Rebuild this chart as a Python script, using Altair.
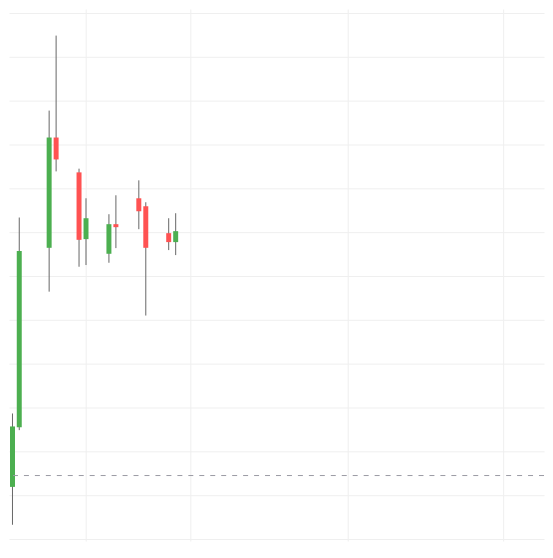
import altair as alt
import pandas as pd

# time offsets (arbitrary units) of each candle
t = [0, 6.8, 36.8, 43.8, 66.8, 73.8, 96.8, 103.8, 126.8, 133.8, 156.8, 163.8]
open_ = [11.89, 25.52, 66.43, 91.59, 83.64, 68.41, 65.07, 71.82, 77.73, 75.91, 69.77, 67.73]
close = [25.68, 65.68, 91.59, 86.59, 68.25, 73.18, 71.82, 71.14, 74.77, 66.43, 67.73, 70.23]
high = [28.64, 73.34, 97.73, 114.84, 84.48, 77.73, 74.09, 78.41, 81.82, 76.82, 73.18, 74.32]
low = [3.25, 24.84, 56.43, 83.86, 62.11, 62.50, 63.02, 66.36, 70.68, 50.98, 65.91, 64.77]
ref_level = [14.48]
x_grid = [73.8, 178.8, 336.0, 492.8]
y_grid = [0, 10, 20, 30, 40, 50, 60, 70, 80, 90, 100, 110, 120]

df = pd.DataFrame({"t": t, "open": open_, "close": close, "high": high, "low": low})
df["dir"] = ["up" if c >= o else "down" for o, c in zip(open_, close)]

xs = alt.Scale(domain=[-3.5, 533.5], nice=False, zero=False, padding=0)
ys = alt.Scale(domain=[-0.4545, 120.91], nice=False, zero=False, padding=0)

x_axis = alt.Axis(values=x_grid, labels=False, ticks=False, domain=False, title=None,
                  grid=True, gridColor="#efefef", gridWidth=1)
y_axis = alt.Axis(values=y_grid, labels=False, ticks=False, domain=False, title=None,
                  grid=True, gridColor="#efefef", gridWidth=1)

base = alt.Chart(df)

wicks = base.mark_rule(color="#666666", strokeWidth=1).encode(
    x=alt.X("t:Q", scale=xs, axis=x_axis),
    y=alt.Y("low:Q", scale=ys, axis=y_axis),
    y2="high:Q",
)

bodies = base.mark_bar(size=5).encode(
    x=alt.X("t:Q", scale=xs),
    y=alt.Y("open:Q", scale=ys),
    y2="close:Q",
    color=alt.Color("dir:N", scale=alt.Scale(domain=["up", "down"], range=["#4caf50", "#ff5252"]), legend=None),
)

ref = alt.Chart(pd.DataFrame({"v": ref_level})).mark_rule(
    color="#9a9aa4", strokeWidth=1, strokeDash=[5, 6]
).encode(y=alt.Y("v:Q", scale=ys))

chart = (wicks + bodies + ref).properties(width=537, height=534, padding=0).configure_view(
    strokeWidth=0
).configure_scale(continuousPadding=0)

chart.save("out.html", embed_options={"renderer": "svg", "actions": False})
